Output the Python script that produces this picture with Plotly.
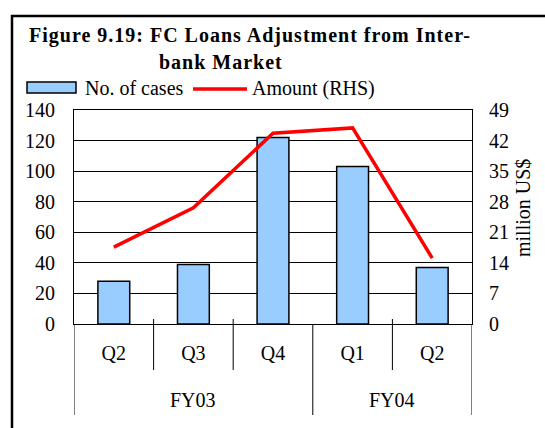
import plotly.graph_objects as go

# ---- data ----
quarters = ["Q2", "Q3", "Q4", "Q1", "Q2"]
fiscal_years = ["FY03", "FY03", "FY03", "FY04", "FY04"]
cases = [28, 39, 122, 103, 37]
amount = [17.6, 26.6, 43.7, 44.9, 15.1]
left_ticks = [0, 20, 40, 60, 80, 100, 120, 140]
right_ticks = [0, 7, 14, 21, 28, 35, 42, 49]

W, H = 545, 428
L, R, T, B = 74, 472, 110, 324
FONT = "Liberation Serif, Times New Roman, serif"

def px2x(px):
    return (px - L) / (R - L)

def px2y(py):
    return (B - py) / (B - T)

xs = list(range(len(quarters)))

fig = go.Figure()
fig.add_trace(go.Bar(
    x=xs, y=cases, width=0.4, name="No. of cases",
    marker=dict(color="#99CCFF", line=dict(color="black", width=1.5)),
))
fig.add_trace(go.Scatter(
    x=xs, y=amount, yaxis="y2", mode="lines", name="Amount (RHS)",
    line=dict(color="#FF0000", width=3.5),
))

shapes = []
annotations = []

# outer frame
shapes.append(dict(type="rect", xref="paper", yref="paper",
                   x0=px2x(12), x1=px2x(600), y0=px2y(16), y1=px2y(480),
                   line=dict(color="black", width=2.5), fillcolor="rgba(0,0,0,0)"))

# quarter dividers
fy_bounds = [-0.5]
for i in range(len(quarters) - 1):
    if fiscal_years[i] != fiscal_years[i + 1]:
        fy_bounds.append(i + 0.5)
    else:
        shapes.append(dict(type="line", xref="x", yref="paper",
                           x0=i + 0.5, x1=i + 0.5, y0=px2y(319), y1=px2y(370),
                           line=dict(color="black", width=1)))
fy_bounds.append(len(quarters) - 0.5)
for b in fy_bounds:
    shapes.append(dict(type="line", xref="x", yref="paper",
                       x0=b, x1=b, y0=px2y(324), y1=px2y(415),
                       line=dict(color="black", width=1)))
# FY labels
for j in range(len(fy_bounds) - 1):
    lo, hi = fy_bounds[j], fy_bounds[j + 1]
    annotations.append(dict(text=fiscal_years[int(lo + 0.5)], xref="x", yref="paper",
                            x=(lo + hi) / 2, y=px2y(400), showarrow=False,
                            xanchor="center", yanchor="middle",
                            font=dict(family=FONT, size=20, color="black")))

# title
tstyle = "letter-spacing:1px"
annotations.append(dict(text=f"<b><span style='{tstyle}'>Figure 9.19: FC Loans Adjustment from Inter-</span></b>",
                        xref="paper", yref="paper", x=px2x(27), y=px2y(35),
                        xanchor="left", yanchor="middle", showarrow=False,
                        font=dict(family=FONT, size=20, color="black")))
annotations.append(dict(text=f"<b><span style='{tstyle}'>bank Market</span></b>",
                        xref="paper", yref="paper", x=px2x(157), y=px2y(62),
                        xanchor="left", yanchor="middle", showarrow=False,
                        font=dict(family=FONT, size=20, color="black")))

# custom legend
shapes.append(dict(type="rect", xref="paper", yref="paper",
                   x0=px2x(27), x1=px2x(76), y0=px2y(93), y1=px2y(82),
                   fillcolor="#99CCFF", line=dict(color="black", width=1.5)))
annotations.append(dict(text="No. of cases", xref="paper", yref="paper",
                        x=px2x(83), y=px2y(88), xanchor="left", yanchor="middle",
                        showarrow=False, font=dict(family=FONT, size=20, color="black")))
shapes.append(dict(type="line", xref="paper", yref="paper",
                   x0=px2x(193), x1=px2x(247), y0=px2y(89), y1=px2y(89),
                   line=dict(color="#FF0000", width=3.5)))
annotations.append(dict(text="Amount (RHS)", xref="paper", yref="paper",
                        x=px2x(250), y=px2y(88), xanchor="left", yanchor="middle",
                        showarrow=False, font=dict(family=FONT, size=20, color="black")))

# right axis title
annotations.append(dict(text="million US$", xref="paper", yref="paper",
                        x=px2x(523), y=px2y(208), xanchor="center", yanchor="middle",
                        textangle=-90, showarrow=False,
                        font=dict(family=FONT, size=20, color="black")))

fig.update_layout(
    width=W, height=H,
    margin=dict(l=L, r=W - R, t=T, b=H - B, pad=0),
    paper_bgcolor="white", plot_bgcolor="white",
    showlegend=False,
    font=dict(family=FONT, size=20, color="black"),
    xaxis=dict(range=[-0.5, len(quarters) - 0.5], tickvals=xs, ticktext=quarters,
               showgrid=False, zeroline=False, showline=True, linecolor="black",
               linewidth=1, mirror=True, ticks="", ticklabelstandoff=11,
               tickfont=dict(family=FONT, size=20, color="black")),
    yaxis=dict(range=[0, 140], tickvals=left_ticks, showgrid=True, gridcolor="black",
               gridwidth=1, zeroline=False, showline=True, linecolor="black",
               linewidth=1, ticks="", ticklabelstandoff=14,
               tickfont=dict(family=FONT, size=20, color="black")),
    yaxis2=dict(range=[0, 49], tickvals=right_ticks, overlaying="y", side="right",
                showgrid=False, zeroline=False, showline=True, linecolor="black",
                linewidth=1, ticks="", ticklabelstandoff=12,
                tickfont=dict(family=FONT, size=20, color="black")),
    shapes=shapes, annotations=annotations,
)

fig.write_html("out.html", config={"displayModeBar": False},
               post_script="document.body.style.margin='0';document.body.style.overflow='hidden';")
